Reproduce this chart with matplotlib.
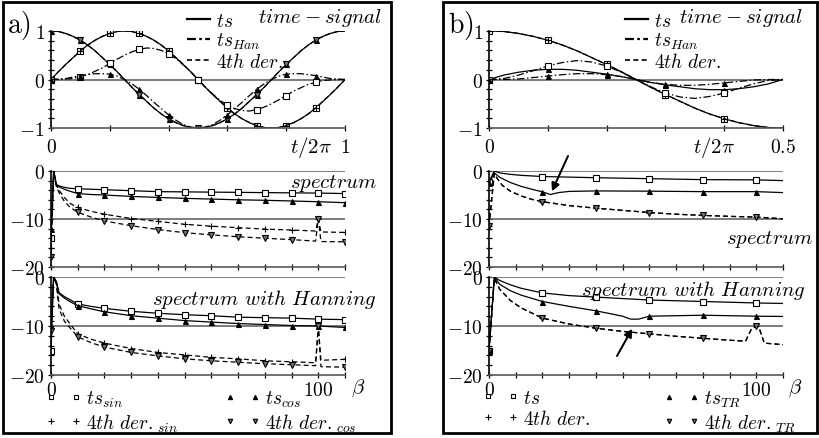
import matplotlib
matplotlib.use('Agg')
import matplotlib.pyplot as plt
from matplotlib.lines import Line2D
from matplotlib.patches import Rectangle
import numpy as np

plt.rcParams['mathtext.fontset'] = 'cm'
plt.rcParams['font.family'] = 'serif'
plt.rcParams['font.serif'] = ['DejaVu Serif']

# ---- data ----
# a) time signals over t/2pi in [0, 1]
t_a = np.linspace(0, 1, 41)
sig_sin = [0, .16, .31, .45, .59, .71, .81, .89, .95, .99, 1, .99, .95, .89, .81, .71, .59, .45, .31, .16,
           0, -.16, -.31, -.45, -.59, -.71, -.81, -.89, -.95, -.99, -1, -.99, -.95, -.89, -.81, -.71, -.59,
           -.45, -.31, -.16, 0]
sig_cos = [1, .99, .95, .89, .81, .71, .59, .45, .31, .16, 0, -.16, -.31, -.45, -.59, -.71, -.81, -.89,
           -.95, -.99, -1, -.99, -.95, -.89, -.81, -.71, -.59, -.45, -.31, -.16, 0, .16, .31, .45, .59,
           .71, .81, .89, .95, .99, 1]
sig_sin_han = [0, 0, .01, .02, .06, .10, .17, .24, .33, .42, .50, .57, .62, .65, .64, .60, .53, .43, .30,
               .16, 0, -.16, -.30, -.43, -.53, -.60, -.64, -.65, -.62, -.57, -.50, -.42, -.33, -.24,
               -.17, -.10, -.06, -.02, -.01, 0, 0]
sig_cos_han = [0, .01, .02, .05, .08, .10, .12, .12, .11, .07, 0, -.09, -.20, -.33, -.47, -.60, -.73,
               -.84, -.93, -.98, -1, -.98, -.93, -.84, -.73, -.60, -.47, -.33, -.20, -.09, 0, .07, .11,
               .12, .12, .10, .08, .05, .02, .01, 0]

# a) spectra, no window
sp_beta = [0, 1, 2, 3, 5, 7, 10, 15, 20, 30, 40, 50, 60, 70, 80, 90, 100, 110]
sp_sin = [-14, 0, -2.8, -3.1, -3.4, -3.6, -3.7, -3.8, -3.9, -4.1, -4.3, -4.35, -4.4, -4.45, -4.5,
          -4.55, -4.6, -4.7]
sp_cos = [-12, 0, -2.9, -3.3, -3.8, -4.2, -4.7, -4.9, -5.0, -5.3, -5.5, -5.7, -5.85, -6.0, -6.1,
          -6.25, -6.4, -6.6]
sp4_beta = [0, 1, 2, 3, 5, 7, 10, 15, 20, 30, 40, 50, 60, 70, 80, 90, 99, 100, 101, 110]
sp4_sin = [-16, 0, -3.0, -4.0, -5.5, -6.7, -7.6, -8.4, -9.0, -9.9, -10.5, -11.1, -11.5, -11.8, -12.1,
           -12.3, -12.5, -10, -12.7, -12.8]
sp4_cos = [-18, 0, -3.2, -4.5, -6.3, -7.5, -8.6, -9.6, -10.4, -11.4, -12.2, -12.85, -13.3, -13.7,
           -14.0, -14.3, -14.6, -10, -14.7, -14.75]

# a) spectra with Hanning window
hs_sin = [-15, 0, -1, -3.2, -4.0, -4.6, -5.5, -6.0, -6.4, -7.0, -7.4, -7.7, -7.9, -8.2, -8.3, -8.4,
          -8.6, -8.7]
hs_cos = [-10, 0, -1, -3.4, -4.3, -5.0, -5.85, -6.5, -7.1, -7.9, -8.4, -8.9, -9.2, -9.5, -9.7, -9.9,
          -10.0, -10.3]
hs4_sin = [-9, 0, -1, -5.5, -8, -9.5, -11.6, -12.7, -13.5, -14.6, -15.4, -15.9, -16.4, -16.7, -17.1,
           -17.3, -17.5, -10, -17.0, -16.8]
hs4_cos = [-11, 0, -1.5, -6.5, -9, -10.3, -12.2, -13.4, -14.3, -15.4, -16.1, -16.7, -17.1, -17.4,
           -17.7, -17.9, -18.1, -10, -18.3, -18.4]

# b) time signals over t/2pi in [0, 0.5]
t_b = np.linspace(0, 0.5, 21)
sig_b = [1, .99, .95, .89, .81, .71, .59, .45, .31, .16, 0, -.16, -.31, -.45, -.59, -.71, -.81, -.89,
         -.95, -.99, -1]
sig_b_han = [0, .02, .09, .18, .28, .35, .39, .36, .28, .15, 0, -.15, -.28, -.36, -.39, -.35, -.28,
             -.18, -.09, -.02, 0]
sig_b_tr = [0, .09, .15, .19, .21, .21, .19, .15, .11, .06, 0, -.06, -.11, -.15, -.19, -.21, -.21,
            -.19, -.15, -.09, 0]
sig_b_tr_han = [0, 0, .01, .04, .07, .10, .12, .12, .10, .06, 0, -.06, -.10, -.12, -.12, -.10, -.07,
                -.04, -.01, 0, 0]

# b) spectra, no window
bs_beta = [0, 2, 4, 8, 12, 20, 40, 60, 80, 100, 110]
bs_ts = [-2.2, 0, -0.4, -0.7, -0.9, -1.15, -1.4, -1.6, -1.8, -1.85, -2.0]
bs_tr_beta = [0, 2, 4, 8, 12, 16, 20, 23, 26, 30, 40, 60, 80, 100, 110]
bs_tr = [-2.5, -0.4, -1.3, -2.4, -3.2, -3.8, -4.35, -4.9, -4.5, -4.25, -4.15, -4.2, -4.3, -4.3, -4.5]
bs4_beta = [0, 2, 3, 5, 8, 12, 16, 20, 30, 40, 50, 60, 70, 80, 90, 100, 110]
bs4 = [-11.5, -0.5, -1.5, -3.0, -4.2, -5.2, -5.9, -6.4, -7.2, -7.75, -8.2, -8.65, -9.0, -9.25, -9.45,
       -9.6, -9.95]

# b) spectra with Hanning window
bh_beta = [0, 2, 4, 8, 12, 20, 30, 40, 60, 80, 100, 110]
bh_ts = [-15, 0, -0.7, -1.6, -2.3, -3.25, -3.8, -4.1, -4.7, -5.0, -5.3, -5.4]
bh_tr_beta = [0, 2, 4, 8, 12, 20, 30, 40, 50, 53, 56, 60, 80, 100, 110]
bh_tr = [-15, 0, -1.5, -2.8, -3.7, -5.0, -6.0, -6.9, -8.0, -8.6, -8.6, -8.0, -7.8, -8.0, -8.05]
bh4_beta = [0, 2, 4, 8, 12, 20, 30, 40, 50, 60, 70, 80, 90, 96, 98, 100, 101, 103, 110]
bh4 = [-15, -0.3, -2.5, -4.8, -6.3, -8.4, -9.6, -10.45, -11.1, -11.6, -12.1, -12.5, -12.9, -13.1,
       -10.8, -10, -10.3, -13.5, -13.8]

W, H = 820, 439
FS = 14


def rect(x0, y0, x1, y1):
    return [x0 / W, 1 - y1 / H, (x1 - x0) / W, (y1 - y0) / H]


def fx(x):
    return x / W


def fy(y):
    return 1 - y / H


LS_DD = (0, (6, 2, 1.2, 2))
LS_DA = (0, (4, 2.5))
MK = {'s': dict(marker='s', ms=4, mfc='white'),
      '^': dict(marker='^', ms=3.6, mfc='black'),
      '+': dict(marker='+', ms=5, mfc='black'),
      'v': dict(marker='v', ms=3.8, mfc='0.45')}


def curve(ax, x, y, ls, mk, step, start=0, end=1e9):
    every = [i for i, b in enumerate(x)
             if round(b / step, 6) % 1 == 0 and start <= b < end]
    ax.plot(x, y, color='black', lw=0.9, ls=ls, markevery=every, mec='black', mew=0.8,
            **MK[mk])


def base(ax):
    for s in ('top', 'right'):
        ax.spines[s].set_visible(False)
    ax.spines['left'].set_linewidth(1.2)
    ax.spines['bottom'].set_linewidth(1.2)
    ax.spines['bottom'].set_color('0.35')
    ax.tick_params(which='both', direction='inout', length=5, width=0.9, labelsize=FS, pad=2)
    ax.tick_params(which='minor', length=4)


def time_axes(ax, xmax, xminor, xlab):
    base(ax)
    ax.set_xlim(0, xmax)
    ax.set_ylim(-1, 1)
    ax.set_xticks([0, xmax])
    ax.set_xticklabels(['$0$', xlab])
    ax.set_xticks(np.arange(0, xmax + 1e-9, xminor), minor=True)
    ax.set_yticks([-1, 0, 1])
    ax.set_yticklabels(['$-1$', '$0$', '$1$'])
    ax.set_yticks(np.arange(-1, 1.01, 0.2), minor=True)
    ax.tick_params(axis='x', pad=5)
    ax.axhline(0, color='0.35', lw=1.1)


def spec_axes(ax, labels, lines):
    base(ax)
    ax.set_xlim(0, 110)
    ax.set_ylim(-20, 0)
    ax.set_xticks([0, 100])
    ax.set_xticklabels(['$0$', '$100$'] if labels else ['', ''])
    ax.set_xticks(np.arange(0, 111, 10), minor=True)
    ax.set_yticks([-20, -10, 0])
    ax.set_yticklabels(['$-20$', '$-10$', '$0$'])
    ax.set_yticks(np.arange(-20, 0.1, 2), minor=True)
    for v in lines:
        ax.axhline(v, color='0.35', lw=1.1)


fig = plt.figure(figsize=(W / 100, H / 100), dpi=100)

# panel frames
for x0, x1 in ((3, 391), (443, 817)):
    fig.add_artist(Rectangle((fx(x0), fy(434)), (x1 - x0) / W, 431 / H, transform=fig.transFigure,
                             fill=False, lw=2.0, color='black'))

# ---------------- panel a ----------------
ax1 = fig.add_axes(rect(51, 32, 345, 129))
time_axes(ax1, 1, 0.2, '$1$')
curve(ax1, t_a, sig_sin, '-', 's', 0.1, end=0.95)
curve(ax1, t_a, sig_cos, '-', '^', 0.1, end=0.95)
curve(ax1, t_a, sig_sin, LS_DA, '+', 0.1, end=0.95)
curve(ax1, t_a, sig_cos, LS_DA, 'v', 0.1, end=0.95)
curve(ax1, t_a, sig_sin_han, LS_DD, 's', 0.1, end=0.95)
curve(ax1, t_a, sig_cos_han, LS_DD, '^', 0.1, end=0.95)

ax2 = fig.add_axes(rect(51, 172, 345, 268))
spec_axes(ax2, False, [0, -10])
curve(ax2, sp_beta, sp_sin, '-', 's', 10)
curve(ax2, sp_beta, sp_cos, '-', '^', 10)
curve(ax2, sp4_beta, sp4_sin, LS_DA, '+', 10)
curve(ax2, sp4_beta, sp4_cos, LS_DA, 'v', 10)

ax3 = fig.add_axes(rect(51, 278, 345, 376))
spec_axes(ax3, True, [0, -10])
curve(ax3, sp_beta, hs_sin, '-', 's', 10)
curve(ax3, sp_beta, hs_cos, '-', '^', 10)
curve(ax3, sp4_beta, hs4_sin, LS_DA, '+', 10)
curve(ax3, sp4_beta, hs4_cos, LS_DA, 'v', 10)

# ---------------- panel b ----------------
bx1 = fig.add_axes(rect(489, 32, 783, 129))
time_axes(bx1, 0.5, 0.1, '$0.5$')
curve(bx1, t_b, sig_b, '-', 's', 0.1, end=0.45)
curve(bx1, t_b, sig_b, LS_DA, '+', 0.1, end=0.45)
curve(bx1, t_b, sig_b_tr, '-', '^', 0.1, end=0.45)
curve(bx1, t_b, sig_b_han, LS_DD, 's', 0.1, end=0.45)
curve(bx1, t_b, sig_b_tr_han, LS_DD, '^', 0.1, end=0.45)

bx2 = fig.add_axes(rect(489, 172, 783, 268))
spec_axes(bx2, False, [0, -10])
curve(bx2, bs_beta, bs_ts, '-', 's', 20)
curve(bx2, bs_tr_beta, bs_tr, '-', '^', 20)
curve(bx2, bs4_beta, bs4, LS_DA, '+', 20)
curve(bx2, bs4_beta, bs4, LS_DA, 'v', 20)

bx3 = fig.add_axes(rect(489, 278, 783, 376))
spec_axes(bx3, True, [0, -10])
curve(bx3, bh_beta, bh_ts, '-', 's', 20)
curve(bx3, bh_tr_beta, bh_tr, '-', '^', 20)
curve(bx3, bh4_beta, bh4, LS_DA, '+', 20)
curve(bx3, bh4_beta, bh4, LS_DA, 'v', 20)

# ---------------- texts ----------------
TXT = dict(fontsize=15, color='black')
fig.text(fx(7), fy(26), r'$\mathrm{a)}$', fontsize=20, va='center')
fig.text(fx(448), fy(26), r'$\mathrm{b)}$', fontsize=20, va='center')

for x_leg, x_ts, x_lab in ((187, 258, 290), (625, 679, 693)):
    h = [Line2D([], [], color='black', lw=1.6, ls='-'),
         Line2D([], [], color='black', lw=1.6, ls=(0, (4, 1.5, 1.2, 1.5))),
         Line2D([], [], color='black', lw=1.2, ls=(0, (3, 2)))]
    fig.legend(h, ['$ts$', '$ts_{Han}$', '$4th\\ der.$'], loc='upper left',
               bbox_to_anchor=(fx(x_leg), fy(13)), frameon=False, fontsize=FS,
               handlelength=1.2, handletextpad=0.3, labelspacing=0.05, borderpad=0,
               borderaxespad=0)
    fig.text(fx(x_ts), fy(18), '$time-signal$', va='center', **TXT)
    fig.text(fx(x_lab), fy(147), r'$t/2\pi$', va='center', **TXT)

fig.text(fx(377), fy(183), '$spectrum$', ha='right', va='center', **TXT)
fig.text(fx(813), fy(240), '$spectrum$', ha='right', va='center', **TXT)
fig.text(fx(377), fy(300), '$spectrum\\ with\\ Hanning$', ha='right', va='center', **TXT)
fig.text(fx(806), fy(290), '$spectrum\\ with\\ Hanning$', ha='right', va='center', **TXT)
fig.text(fx(351), fy(388), r'$\beta$', va='center', **TXT)
fig.text(fx(788), fy(388), r'$\beta$', va='center', **TXT)

# arrows in panel b
for tail, head in (((568, 157), (552, 192)), ((617, 357), (632, 330))):
    fig.add_artist(plt.annotate('', xy=(fx(head[0]), fy(head[1])), xycoords='figure fraction',
                                xytext=(fx(tail[0]), fy(tail[1])), textcoords='figure fraction',
                                arrowprops=dict(arrowstyle='-|>', color='black', lw=1.2,
                                                mutation_scale=12, shrinkA=0, shrinkB=0)))

# marker legends at the bottom, one per column
cols = [(45, ['s', '+'], ['$ts_{sin}$', '$4th\\ der._{sin}$']),
        (224, ['^', 'v'], ['$ts_{cos}$', '$4th\\ der._{cos}$']),
        (482, ['s', '+'], ['$ts$', '$4th\\ der.$']),
        (663, ['^', 'v'], ['$ts_{TR}$', '$4th\\ der._{TR}$'])]
for x0, mks, labs in cols:
    hs = []
    for m in mks:
        kw = dict(MK[m])
        kw['ms'] = kw['ms'] * 0.85
        hs.append(Line2D([], [], ls='none', mec='black', mew=0.8, **kw))
    fig.legend(hs, labs, loc='upper left', bbox_to_anchor=(fx(x0), fy(390)),
               numpoints=2, frameon=False, fontsize=FS, handlelength=1.9, handletextpad=0.2,
               labelspacing=0.1, borderpad=0, borderaxespad=0)

fig.savefig('out.png', dpi=100)
